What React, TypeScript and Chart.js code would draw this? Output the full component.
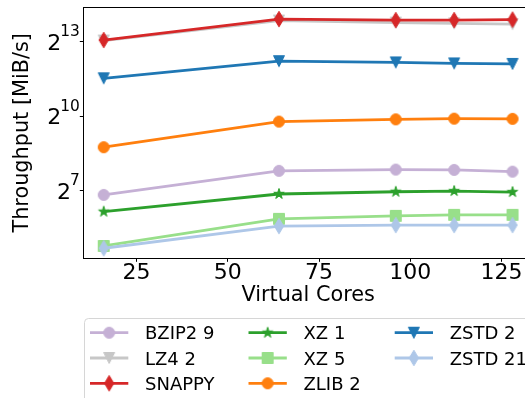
import React, { useEffect, useRef } from "react";
import { Chart, registerables } from "chart.js";

Chart.register(...registerables);

// Throughput per compressor setting, by number of virtual cores (MiB/s)
const cores = [16, 64, 96, 112, 128];
const bzip2_9 = [114, 223, 231, 229, 218];
const lz4_2 = [8420, 14670, 13870, 13590, 13310];
const snappy = [8540, 15290, 14870, 14870, 15080];
const xz_1 = [71.5, 117, 124.5, 127, 123.6];
const xz_5 = [27.5, 58.5, 63.6, 65.4, 65.4];
const zlib_2 = [431, 879, 936, 955, 949];
const zstd_2 = [2940, 4740, 4580, 4450, 4390];
const zstd_21 = [25.8, 47.8, 49.2, 49.2, 49.2];

const seriesLabels = ["BZIP2 9", "LZ4 2", "SNAPPY", "XZ 1", "XZ 5", "ZLIB 2", "ZSTD 2", "ZSTD 21"];
const seriesValues = [bzip2_9, lz4_2, snappy, xz_1, xz_5, zlib_2, zstd_2, zstd_21];

const xTickValues = [25, 50, 75, 100, 125];
const yTickExponents = [7, 10, 13];

const xTitle = "Virtual Cores";
const yTitle = "Throughput [MiB/s]";

type Marker = "circle" | "triangleDown" | "thinDiamond" | "star" | "square";

const seriesColors = ["#c5b0d5", "#c7c7c7", "#d62728", "#2ca02c", "#98df8a", "#ff7f0e", "#1f77b4", "#aec7e8"];
const seriesMarkers: Marker[] = ["circle", "triangleDown", "thinDiamond", "star", "square", "circle", "triangleDown", "thinDiamond"];

const FONT = '"DejaVu Sans", "Liberation Sans", sans-serif';
const W = 560;
const H = 420;
const MARKER_SIZE = 11;
const LINE_WIDTH = 2.8;

function makeMarker(shape: Marker, color: string, s: number): HTMLCanvasElement {
  const c = document.createElement("canvas");
  c.width = 24;
  c.height = 24;
  const ctx = c.getContext("2d")!;
  const cx = 12;
  const cy = 12;
  ctx.fillStyle = color;
  ctx.strokeStyle = color;
  ctx.lineWidth = 1;
  ctx.lineJoin = "miter";
  ctx.beginPath();
  const h = s / 2;
  if (shape === "circle") {
    ctx.arc(cx, cy, h, 0, Math.PI * 2);
  } else if (shape === "square") {
    ctx.rect(cx - h, cy - h, s, s);
  } else if (shape === "triangleDown") {
    ctx.moveTo(cx, cy + h);
    ctx.lineTo(cx - h, cy - h);
    ctx.lineTo(cx + h, cy - h);
    ctx.closePath();
  } else if (shape === "thinDiamond") {
    const hw = s * 0.707 * 0.6;
    const hh = s * 0.707;
    ctx.moveTo(cx, cy - hh);
    ctx.lineTo(cx + hw, cy);
    ctx.lineTo(cx, cy + hh);
    ctx.lineTo(cx - hw, cy);
    ctx.closePath();
  } else if (shape === "star") {
    const outer = h;
    const inner = h * 0.381966;
    for (let k = 0; k < 10; k++) {
      const r = k % 2 === 0 ? outer : inner;
      const a = -Math.PI / 2 + (k * Math.PI) / 5;
      const px = cx + r * Math.cos(a);
      const py = cy + r * Math.sin(a);
      if (k === 0) ctx.moveTo(px, py);
      else ctx.lineTo(px, py);
    }
    ctx.closePath();
  }
  ctx.fill();
  ctx.stroke();
  return c;
}

// Outline around the plotting area (top and right spines)
const framePlugin = {
  id: "frame",
  afterDraw(chart: any) {
    const { ctx, chartArea } = chart;
    ctx.save();
    ctx.strokeStyle = "#000";
    ctx.lineWidth = 1;
    const l = Math.round(chartArea.left) + 0.5;
    const t = Math.round(chartArea.top) + 0.5;
    const r = Math.round(chartArea.right) + 0.5;
    const b = Math.round(chartArea.bottom) + 0.5;
    ctx.strokeRect(l, t, r - l, b - t);
    ctx.restore();
  },
};

// Power-of-two tick labels with raised exponents
const powerLabelPlugin = {
  id: "powerLabels",
  afterDraw(chart: any) {
    const { ctx } = chart;
    const y = chart.scales.y;
    ctx.save();
    ctx.fillStyle = "#000";
    ctx.textAlign = "left";
    ctx.textBaseline = "alphabetic";
    const baseFont = `22px ${FONT}`;
    const supFont = `15.4px ${FONT}`;
    const right = y.right - 3.5;
    yTickExponents.forEach((e) => {
      const py = y.getPixelForValue(Math.pow(2, e));
      const exp = String(e);
      ctx.font = supFont;
      const ws = ctx.measureText(exp).width;
      ctx.font = baseFont;
      const wb = ctx.measureText("2").width;
      ctx.fillText("2", right - ws - wb + 1, py + 8.3);
      ctx.font = supFont;
      ctx.fillText(exp, right - ws, py - 5.5);
    });
    ctx.restore();
  },
};

// Three-row legend laid out column by column
function makeLegendPlugin(markers: HTMLCanvasElement[]) {
  return {
    id: "columnLegend",
    afterDraw(chart: any) {
      const { ctx } = chart;
      const fs = 18;
      const rows = 3;
      const boxLeft = 84.5;
      const boxTop = 318.5;
      const rowY0 = 332.7;
      const rowGap = 25.3;
      const handleLen = 38.3;
      const textGap = 55;
      const colGap = 34;
      ctx.save();
      ctx.beginPath();
      if (ctx.roundRect) ctx.roundRect(boxLeft, boxTop, 600, 200, 4);
      else ctx.rect(boxLeft, boxTop, 600, 200);
      ctx.fillStyle = "rgba(255,255,255,0.8)";
      ctx.fill();
      ctx.strokeStyle = "#d6d6d6";
      ctx.lineWidth = 1;
      ctx.stroke();

      ctx.font = `${fs}px ${FONT}`;
      const nCols = Math.ceil(seriesLabels.length / rows);
      const colX: number[] = [90];
      for (let c = 0; c < nCols - 1; c++) {
        let maxW = 0;
        for (let r = 0; r < rows; r++) {
          const idx = c * rows + r;
          if (idx < seriesLabels.length) maxW = Math.max(maxW, ctx.measureText(seriesLabels[idx]).width);
        }
        colX.push(colX[c] + textGap + maxW + colGap);
      }
      seriesLabels.forEach((label, i) => {
        const c = Math.floor(i / rows);
        const r = i % rows;
        const x0 = colX[c];
        const yc = rowY0 + r * rowGap;
        ctx.strokeStyle = seriesColors[i];
        ctx.lineWidth = LINE_WIDTH;
        ctx.lineCap = "square";
        ctx.beginPath();
        ctx.moveTo(x0 + LINE_WIDTH / 2, yc);
        ctx.lineTo(x0 + handleLen - LINE_WIDTH / 2, yc);
        ctx.stroke();
        const m = markers[i];
        if (m) ctx.drawImage(m, x0 + handleLen / 2 - m.width / 2, yc - m.height / 2);
        ctx.fillStyle = "#000";
        ctx.textAlign = "left";
        ctx.textBaseline = "alphabetic";
        ctx.fillText(label, x0 + textGap, yc + 6.6);
      });
      ctx.restore();
    },
  };
}

export default function App() {
  const canvasRef = useRef<HTMLCanvasElement | null>(null);

  useEffect(() => {
    const canvas = canvasRef.current;
    if (!canvas) return;
    const markers = seriesLabels.map((_, i) => makeMarker(seriesMarkers[i], seriesColors[i], MARKER_SIZE));

    const axisGrid = {
      display: true,
      drawOnChartArea: false,
      drawTicks: true,
      tickLength: 3.5,
      color: "#000",
      lineWidth: 1,
    };

    const chart = new Chart(canvas, {
      type: "line",
      data: {
        datasets: seriesLabels.map((label, i) => ({
          label,
          data: cores.map((x, j) => ({ x, y: seriesValues[i][j] })),
          borderColor: seriesColors[i],
          backgroundColor: seriesColors[i],
          borderWidth: LINE_WIDTH,
          pointStyle: markers[i],
          pointRadius: 6,
          pointHoverRadius: 6,
          tension: 0,
          fill: false,
          order: -i,
        })),
      },
      options: {
        responsive: false,
        animation: false,
        events: [],
        layout: {
          autoPadding: false,
          padding: { top: 7.3, left: 0, right: W - 533, bottom: H - 258.3 - 60 },
        },
        plugins: {
          legend: { display: false },
          tooltip: { enabled: false },
        },
        scales: {
          x: {
            type: "linear",
            min: 10.4,
            max: 133.6,
            bounds: "data",
            afterBuildTicks: (s: any) => {
              s.ticks = xTickValues.map((v) => ({ value: v }));
            },
            afterFit: (s: any) => {
              s.height = 60;
            },
            ticks: {
              font: { family: FONT, size: 22, lineHeight: 1.0 },
              color: "#000",
              padding: 0,
              maxRotation: 0,
              autoSkip: false,
            },
            grid: axisGrid,
            border: { display: true, color: "#000", width: 1 },
            title: {
              display: true,
              text: xTitle,
              font: { family: FONT, size: 20.8 },
              color: "#000",
              padding: { top: 0, bottom: 10.3 },
            },
          },
          y: {
            type: "logarithmic",
            min: 19.5,
            max: 21250,
            bounds: "data",
            afterBuildTicks: (s: any) => {
              s.ticks = yTickExponents.map((e) => ({ value: Math.pow(2, e) }));
            },
            afterFit: (s: any) => {
              s.width = 83.3;
            },
            ticks: { display: false },
            grid: axisGrid,
            border: { display: true, color: "#000", width: 1 },
            title: {
              display: true,
              text: yTitle,
              font: { family: FONT, size: 20.8 },
              color: "#000",
              padding: { top: 10.5, bottom: 0 },
            },
          },
        },
      } as any,
      plugins: [framePlugin, powerLabelPlugin, makeLegendPlugin(markers)],
    });

    return () => {
      chart.destroy();
    };
  }, []);

  return (
    <div
      style={{
        position: "absolute",
        left: 0,
        top: 0,
        width: 525,
        height: 398,
        overflow: "hidden",
        background: "#fff",
      }}
    >
      <canvas ref={canvasRef} width={W} height={H} style={{ display: "block", width: W, height: H }} />
    </div>
  );
}
